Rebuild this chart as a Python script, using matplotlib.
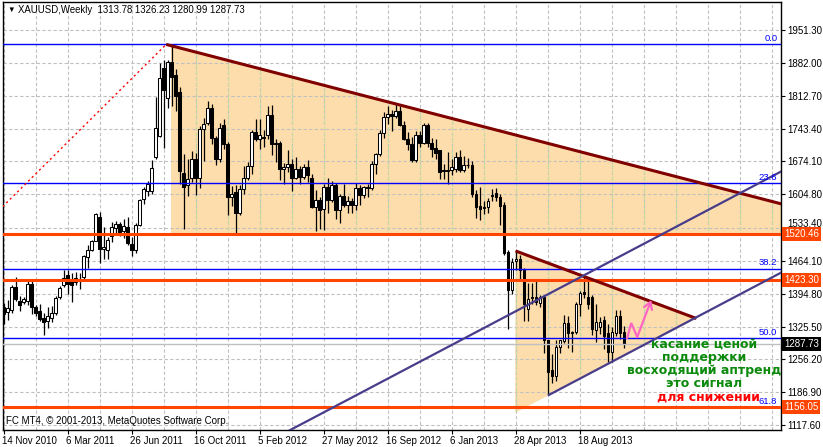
import matplotlib
matplotlib.use("Agg")
import matplotlib.pyplot as plt
import matplotlib.transforms as mtransforms
from matplotlib.patches import Polygon
import numpy as np
import pandas as pd

plt.rcParams['font.family'] = ['Liberation Sans', 'DejaVu Sans']

# ---------------- data (weekly XAUUSD, weeks starting 14 Nov 2010) ----------------
start_date = "2010-11-14"
opens = [1367,1356,1360,1408,1379,1378,1380,1415,1367,1358,1343,1337,1343,1353,1388,1413,
         1434,1422,1420,1423,1429,1473,1486,1507,1556,1490,1488,1516,1533,1541,1528,1536,
         1500,1488,1540,1595,1612,1612,1684,1728,1871,1808,1884,1856,1820,1650,1624,1640,
         1680,1640,1742,1754,1786,1723,1680,1750,1710,1598,1610,1565,1616,1638,1664,1737,
         1722,1725,1730,1772,1713,1712,1658,1662,1668,1640,1658,1642,1663,1640,1578,1592,
         1573,1621,1592,1625,1571,1600,1582,1590,1583,1618,1604,1620,1617,1668,1690,1733,
         1768,1773,1770,1780,1751,1721,1711,1676,1730,1712,1750,1712,1702,1697,1655,1656,
         1656,1658,1684,1656,1667,1667,1606,1580,1577,1577,1600,1607,1598,1582,1482,1403,
         1464,1469,1445,1363,1385,1388,1376,1388,1297,1234,1220,1283,1294,1332,1311,1314,
         1374,1399,1388,1388,1318,1324,1340,1311,1272,1312,1348,1313.78]
highs = [1375,1382,1414,1430,1390,1388,1424,1424,1370,1372,1353,1367,1368,1390,1412,1445,
         1445,1438,1440,1438,1476,1498,1508,1566,1568,1536,1515,1547,1549,1547,1552,1556,
         1515,1545,1595,1620,1632,1676,1810,1881,1888,1889,1921,1870,1830,1690,1680,1695,
         1691,1748,1765,1802,1796,1728,1755,1763,1715,1623,1625,1625,1665,1673,1741,1764,
         1763,1740,1790,1792,1722,1717,1670,1697,1679,1683,1665,1669,1676,1647,1613,1598,
         1627,1638,1633,1628,1605,1627,1600,1597,1629,1624,1623,1626,1674,1692,1741,1778,
         1790,1782,1796,1790,1760,1735,1725,1738,1738,1755,1754,1723,1722,1698,1668,1694,
         1678,1694,1697,1685,1681,1675,1613,1619,1590,1596,1616,1617,1605,1589,1487,1471,
         1487,1477,1448,1417,1418,1424,1392,1393,1298,1267,1296,1298,1349,1348,1316,1378,
         1400,1434,1421,1391,1374,1346,1348,1331,1325,1361,1361,1326.23]
lows = [1330,1340,1353,1380,1359,1374,1370,1352,1348,1338,1308,1322,1336,1350,1384,1408,
        1395,1378,1414,1405,1425,1450,1484,1505,1460,1469,1468,1503,1521,1517,1513,1498,
        1474,1480,1538,1585,1600,1605,1680,1725,1702,1787,1791,1780,1626,1532,1600,1630,
        1603,1618,1674,1750,1710,1667,1673,1700,1560,1580,1523,1560,1605,1634,1647,1718,
        1700,1705,1721,1688,1673,1635,1627,1651,1612,1636,1627,1636,1630,1575,1527,1532,
        1530,1565,1588,1553,1545,1578,1565,1566,1571,1582,1596,1598,1613,1648,1685,1724,
        1753,1739,1765,1748,1719,1697,1672,1673,1705,1710,1705,1684,1680,1636,1636,1626,
        1646,1652,1651,1651,1660,1599,1554,1550,1562,1565,1590,1591,1539,1476,1321,1395,
        1444,1425,1338,1338,1374,1370,1366,1269,1180,1207,1211,1270,1291,1280,1271,1310,
        1348,1386,1362,1308,1292,1310,1277,1251,1251,1306,1300,1280.99]
closes = [1352,1364,1408,1384,1371,1383,1416,1367,1355,1341,1334,1348,1355,1385,1406,1427,
          1415,1413,1427,1426,1474,1486,1505,1563,1490,1494,1509,1535,1541,1524,1538,1501,
          1487,1540,1592,1615,1626,1661,1744,1849,1825,1884,1852,1812,1654,1621,1636,1680,
          1640,1742,1752,1786,1723,1680,1744,1710,1598,1606,1565,1616,1638,1664,1735,1722,
          1729,1723,1772,1710,1710,1657,1662,1668,1640,1658,1642,1663,1645,1578,1592,1571,
          1621,1592,1625,1571,1600,1582,1590,1583,1618,1604,1620,1617,1668,1690,1733,1768,
          1773,1769,1780,1751,1721,1711,1676,1730,1712,1750,1712,1701,1691,1652,1653,1653,
          1662,1684,1656,1666,1666,1606,1578,1573,1575,1590,1604,1598,1580,1480,1403,1462,
          1469,1445,1374,1384,1388,1377,1388,1297,1230,1220,1283,1296,1332,1311,1314,1374,
          1397,1395,1374,1320,1335,1334,1305,1272,1313,1348,1311,1287.73]

price_ticks = [1951.30, 1882.00, 1812.70, 1743.40, 1674.10, 1604.80, 1533.40,
               1464.10, 1394.80, 1325.50, 1256.20, 1186.90, 1117.60]
resistance_levels = [1520.46, 1423.30, 1156.05]
last_price = 1287.73
fib_low, fib_high = 681.0, 1920.9
fib_levels = [0.0, 23.6, 38.2, 50.0, 61.8]

# chart objects (week index, price)
top_trend = [(40.6, 1920.9), (98.0, 1795.2)]
small_trend = [(127.9, 1485.0), (173.1, 1342.4)]
support_line = [(136.0, 1180.0), (173.1, 1345.1)]
channel_line = [(72.4, 1110.6), (194.1, 1652.0)]
fib_anchor = [(-107.4, fib_low), (40.6, fib_high)]
big_zone = [(41.8, 1918.3), (41.8, 1520.46), (222.3, 1520.46)]
small_zone = [(127.9, 1485.0), (127.8, 1143.6), (173.1, 1342.4)]
arrow_path = [(155.8, 1301.2), (156.8, 1332.9), (158.3, 1303.3), (161.8, 1381.4)]

notes_green = ["касание ценой", "поддержки", "восходящий аптренд", "это сигнал"]
note_red = "для снижении"

header = "XAUUSD,Weekly  1313.78 1326.23 1280.99 1287.73"
footer = "FC MT4, \u00a9 2001-2013, MetaQuotes Software Corp."

# ---------------- figure ----------------
W, H = 823, 447
fig = plt.figure(figsize=(W/100, H/100), dpi=100)
L_px, R_px, T_px, B_px = 2.5, 780.5, 2.3, 429.5
ax = fig.add_axes([L_px/W, 1 - B_px/H, (R_px-L_px)/W, (B_px-T_px)/H])
XMIN, XMAX = -0.3, 194.1
YMIN, YMAX = 1108.1, 2009.8
ax.set_xlim(XMIN, XMAX)
ax.set_ylim(YMIN, YMAX)
fig.patch.set_facecolor("white")
ax.set_facecolor("white")

def px2data(px, py):
    """pixel position in the picture -> (week index, price)"""
    return (px - 3.7) / 4.0, 1951.3 - (py - 30) * 2.1106

n = len(closes)
idx = np.arange(n)
dates = pd.date_range(start_date, periods=n, freq="7D")

def extend(p, x0, x1):
    (a, b), (c, d) = p
    s = (d - b) / (c - a)
    return [x0, x1], [b + s*(x0-a), b + s*(x1-a)]

# zones
zone_color = "#FDDDAB"
zpolys = []
for zone in (big_zone, small_zone):
    poly = Polygon(zone, closed=True, facecolor=zone_color, edgecolor="none", zorder=0.5)
    ax.add_patch(poly)
    zpolys.append(poly)

# grid
grid_ls = (0, (3, 2))
for gy in price_ticks:
    ax.axhline(gy, color="#c0c0c0", lw=0.8, ls=grid_ls, zorder=1)
for gx in range(0, 195, 8):
    ax.axvline(gx, color="#c0c0c0", lw=0.8, ls=grid_ls, zorder=1)
    for poly in zpolys:
        ln = ax.axvline(gx, color="#c6dca2", lw=0.9, ls=grid_ls, zorder=1.05)
        ln.set_clip_path(poly)

# candles
up = np.array(closes) >= np.array(opens)
ax.vlines(idx, lows, highs, color="black", lw=0.9, zorder=3)
bottoms = np.minimum(opens, closes)
heights = np.maximum(np.abs(np.array(closes) - np.array(opens)), 1.2)
ax.bar(idx, heights, bottom=bottoms, width=0.72,
       color=np.where(up, "white", "black"), edgecolor="black", linewidth=0.75, zorder=3.5)

# fib lines
rng = fib_high - fib_low
for lv in fib_levels:
    p = fib_high - lv/100*rng
    ax.axhline(p, color="#0000ff", lw=1.0, zorder=4)
    ax.text(193.3, p + 3.0, f"{lv:.1f}", color="#0000ff", fontsize=6.8,
            ha="right", va="bottom", zorder=6)
xs, ys = extend(fib_anchor, fib_anchor[0][0], fib_anchor[1][0])
ax.plot(xs, ys, color="#ff0000", lw=1.0, ls=(0, (1.5, 2.2)), zorder=4)

# current price line
ax.axhline(last_price, color="#c0c0c0", lw=1.0, zorder=4)

# resistance/support horizontals
for lvl in resistance_levels:
    ax.axhline(lvl, color="#ff4500", lw=2.2, zorder=4.2)

# trend lines
xs, ys = extend(top_trend, top_trend[0][0], XMAX + 5)
ax.plot(xs, ys, color="#800000", lw=2.2, zorder=4.5, solid_capstyle="butt")
xs, ys = extend(small_trend, small_trend[0][0], small_trend[1][0])
ax.plot(xs, ys, color="#800000", lw=2.2, zorder=4.5, solid_capstyle="butt")
xs, ys = extend(support_line, support_line[0][0], XMAX + 5)
ax.plot(xs, ys, color="#483D8B", lw=1.6, zorder=4.5, solid_capstyle="butt")
xs, ys = extend(channel_line, 40, XMAX + 5)
ax.plot(xs, ys, color="#483D8B", lw=1.6, zorder=4.5, solid_capstyle="butt")

# pink arrow
ax_x = [p[0] for p in arrow_path]
ax_y = [p[1] for p in arrow_path]
ax.plot(ax_x[:-1], ax_y[:-1], color="#ff66c4", lw=1.6, zorder=5, solid_joinstyle="miter")
ax.annotate("", xy=arrow_path[-1], xytext=arrow_path[-2],
            arrowprops=dict(arrowstyle="->,head_length=0.5,head_width=0.3",
                            color="#ff66c4", lw=1.6, shrinkA=0, shrinkB=0), zorder=5)

# notes (green block, then red line right below it)
gx_, gy_ = px2data(704, 337.8)
green = ax.text(gx_, gy_, "\n".join(notes_green), color="#0b8a0b", fontsize=9,
                fontweight="bold", family="DejaVu Sans", ha="center", va="top",
                multialignment="center", linespacing=1.0, zorder=7)

# header / footer
ax.text(0.006, 0.981, "\u25bc", transform=ax.transAxes, fontsize=5.5, ha="left", va="center",
        color="black", zorder=8)
ax.text(0.0195, 0.981, header, transform=ax.transAxes, fontsize=6.9, ha="left", va="center",
        color="black", zorder=8)
ax.text(0.004, 0.019, footer, transform=ax.transAxes, fontsize=7.0, ha="left", va="center",
        color="black", zorder=8)

# axes styling
for s in ax.spines.values():
    s.set_color("black")
    s.set_linewidth(1.0)
ax.yaxis.tick_right()
ax.set_yticks(price_ticks)
ax.set_yticklabels([f"{v:.2f}" for v in price_ticks])
ax.tick_params(axis="y", direction="out", length=3, width=0.8, pad=2, labelsize=7.0,
               colors="black")
xt = idx[::16]
ax.set_xticks(xt)
ax.set_xticklabels([f"{d.day} {d.strftime('%b %Y')}" for d in dates[::16]])
ax.tick_params(axis="x", direction="out", length=3, width=0.8, pad=1.5, labelsize=7.0,
               colors="black")
offset = mtransforms.ScaledTranslation(-1.5/100, 0, fig.dpi_scale_trans)
for lab in ax.get_xticklabels():
    lab.set_horizontalalignment("left")
    lab.set_transform(lab.get_transform() + offset)
# the label partly hidden by the 1520.46 box sits a little higher so both stay readable
up_shift = mtransforms.ScaledTranslation(0, 5.5/100, fig.dpi_scale_trans)
for lab in ax.get_yticklabels():
    if lab.get_text() == "1533.40":
        lab.set_transform(lab.get_transform() + up_shift)

# price boxes on right axis
bt = mtransforms.blended_transform_factory(fig.transFigure, ax.transData)
for lvl in resistance_levels:
    fig.text(784/W, lvl, f"{lvl:.2f}", transform=bt, fontsize=7.0, color="white",
             ha="left", va="center", zorder=10,
             bbox=dict(boxstyle="square,pad=0.2", fc="#ff4500", ec="none"))
fig.text(784/W, last_price, f"{last_price:.2f}", transform=bt, fontsize=7.0, color="white",
         ha="left", va="center", zorder=10,
         bbox=dict(boxstyle="square,pad=0.2", fc="black", ec="none"))

# place the red line just under the green block
fig.canvas.draw()
bb = green.get_window_extent(renderer=fig.canvas.get_renderer())
red_y = ax.transData.inverted().transform((0, bb.y0 - 0.5))[1]
rx_, _ = px2data(708, 0)
ax.text(rx_, red_y, note_red, color="#ff0000", fontsize=9, fontweight="bold",
        family="DejaVu Sans", ha="center", va="top", zorder=7)

fig.savefig("out.png", dpi=100)
